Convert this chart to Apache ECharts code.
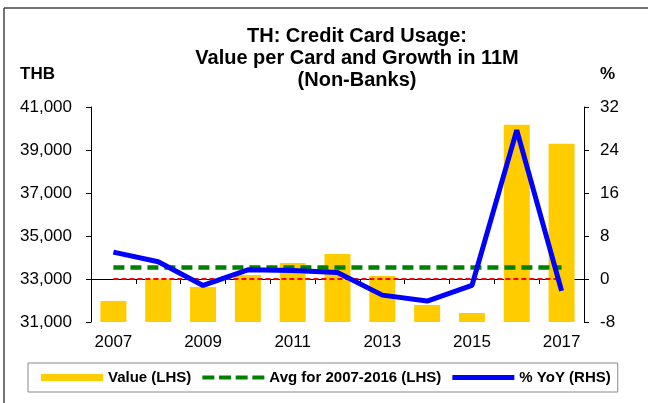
<!DOCTYPE html>
<html>
<head>
<meta charset="utf-8">
<script src="https://cdn.jsdelivr.net/npm/echarts@6/dist/echarts.min.js"></script>
<style>
    html, body { margin: 0; padding: 0; background: #fff; }
    #chart { width: 648px; height: 403px; }
</style>
</head>
<body>
<div id="chart"></div>
<script>
// data
const years = ['2007', '2008', '2009', '2010', '2011', '2012', '2013', '2014', '2015', '2016', '2017']
const valuePerCard = [31980, 33010, 32630, 33190, 33740, 34160, 33140, 31790, 31420, 40180, 39290]
const avgLevel = [33540, 33540, 33540, 33540, 33540, 33540, 33540, 33540, 33540, 33540, 33540]
const yoyGrowth = [5.0, 3.2, -1.2, 1.7, 1.6, 1.2, -3.0, -4.1, -1.2, 27.7, -2.2]
const zeroLine = [0, 0, 0, 0, 0, 0, 0, 0, 0, 0, 0]
const leftTicks = [31000, 33000, 35000, 37000, 39000, 41000]

const font = 'Liberation Sans, Arial, sans-serif'

// legend icons (62 x 8 box)
const iconBar = 'path://M0,0M62,8M0,0.5H62V7.5H0Z'
const iconDash = 'path://M0,0M62,8M0,2H12V6H0Z M16.7,2H28.7V6H16.7Z M33.3,2H45.3V6H33.3Z M50,2H62V6H50Z'
const iconLine = 'path://M0,0M62,8M0,1.5H62V6.5H0Z'

const myChart = echarts.init(document.getElementById('chart'))

myChart.setOption({
    backgroundColor: '#fff',
    animation: false,
    textStyle: { fontFamily: font },
    title: {
        text: 'TH: Credit Card Usage:\nValue per Card and Growth in 11M\n(Non-Banks)',
        left: 352,
        top: 20,
        textAlign: 'center',
        textStyle: { fontSize: 20, fontWeight: 'bold', lineHeight: 22, color: '#000', fontFamily: font }
    },
    graphic: [
        { type: 'line', shape: { x1: 4, y1: 8, x2: 648, y2: 8 }, style: { stroke: '#444', lineWidth: 1.5 } },
        { type: 'line', shape: { x1: 4, y1: 8, x2: 4, y2: 403 }, style: { stroke: '#444', lineWidth: 1.5 } },
        { type: 'text', left: 20, top: 66, style: { text: 'THB', font: 'bold 17px ' + font, fill: '#000' } },
        { type: 'text', left: 600, top: 66, style: { text: '%', font: 'bold 17px ' + font, fill: '#000' } }
    ],
    legend: {
        left: 28,
        top: 363,
        padding: [7, 7, 7, 13],
        borderColor: '#888',
        borderWidth: 1,
        itemWidth: 62,
        itemHeight: 8,
        itemGap: 11,
        itemStyle: { borderWidth: 0 },
        textStyle: { fontSize: 15, fontWeight: 'bold', color: '#000', fontFamily: font },
        data: [
            { name: 'Value (LHS)', icon: iconBar },
            { name: 'Avg for 2007-2016 (LHS)', icon: iconDash },
            { name: '% YoY (RHS)', icon: iconLine }
        ]
    },
    grid: { left: 91, right: 64, top: 107, bottom: 81 },
    xAxis: {
        type: 'category',
        data: years,
        boundaryGap: true,
        axisLine: { lineStyle: { color: '#000', width: 1 } },
        axisTick: { show: true, interval: 0, length: 5, lineStyle: { color: '#000' } },
        axisLabel: { interval: 1, fontSize: 17, color: '#000', margin: 12 }
    },
    yAxis: [
        {
            type: 'value',
            min: 31000,
            max: 41000,
            splitLine: { show: false },
            axisLine: { show: true, lineStyle: { color: '#000' } },
            axisTick: { show: true, length: 5, customValues: leftTicks, lineStyle: { color: '#000' } },
            axisLabel: {
                customValues: leftTicks,
                fontSize: 17,
                color: '#000',
                margin: 19,
                formatter: v => v.toLocaleString('en-US')
            }
        },
        {
            type: 'value',
            min: -8,
            max: 32,
            interval: 8,
            splitLine: { show: false },
            axisLine: { show: true, lineStyle: { color: '#000' } },
            axisTick: { show: true, length: 5, lineStyle: { color: '#000' } },
            axisLabel: { fontSize: 17, color: '#000', margin: 16 }
        }
    ],
    series: [
        {
            name: 'Value (LHS)',
            type: 'bar',
            yAxisIndex: 0,
            data: valuePerCard,
            barWidth: '58%',
            itemStyle: { color: '#FFCC00' }
        },
        {
            name: 'zero',
            type: 'line',
            yAxisIndex: 1,
            data: zeroLine,
            symbol: 'none',
            silent: true,
            lineStyle: { color: '#FF0000', width: 2, type: [5, 3] }
        },
        {
            name: 'Avg for 2007-2016 (LHS)',
            type: 'line',
            yAxisIndex: 0,
            data: avgLevel,
            symbol: 'none',
            lineStyle: { color: '#008000', width: 4.5, type: [11, 6] },
            itemStyle: { color: '#008000' }
        },
        {
            name: '% YoY (RHS)',
            type: 'line',
            yAxisIndex: 1,
            data: yoyGrowth,
            symbol: 'none',
            lineStyle: { color: '#0000FF', width: 5 },
            itemStyle: { color: '#0000FF' }
        }
    ]
})
</script>
</body>
</html>
